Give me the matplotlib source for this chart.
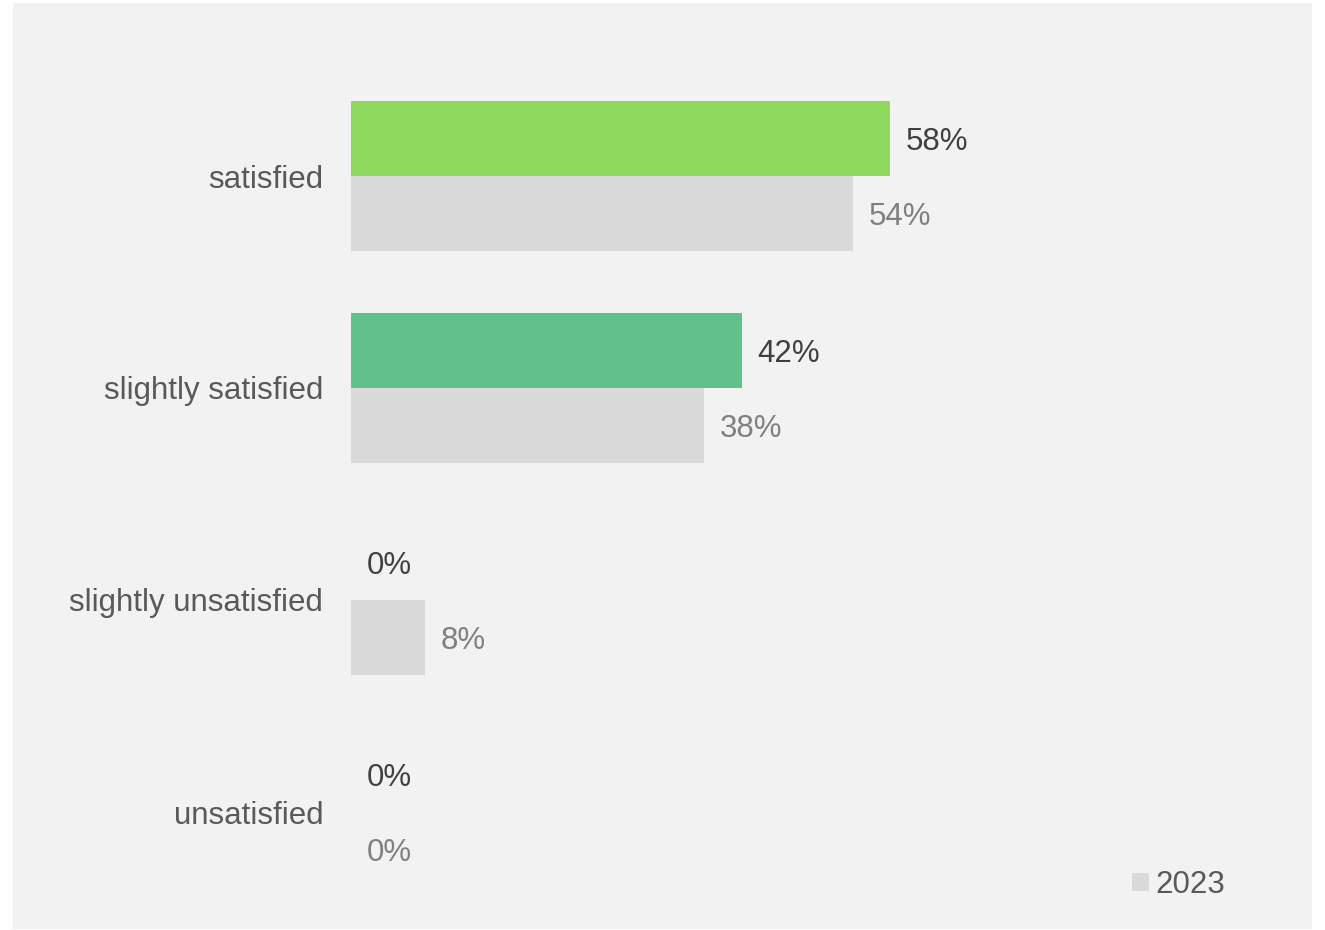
import matplotlib.pyplot as plt
from matplotlib.patches import Rectangle, Patch

# data
categories = ["satisfied", "slightly satisfied", "slightly unsatisfied", "unsatisfied"]
values_2024 = [58, 42, 0, 0]
values_2023 = [54, 38, 8, 0]
colors_2024 = ["#8FD95F", "#62C08A", "#62C08A", "#62C08A"]
gray = "#D9D9D9"

plt.rcParams['font.family'] = ['Liberation Sans', 'DejaVu Sans']
fs = 22.5

W, H = 1325, 930
fig = plt.figure(figsize=(W / 100, H / 100), dpi=100, facecolor="white")

# gray panel behind the chart
fig.patches.append(Rectangle((13 / W, 1 - 929 / H), (1312 - 13) / W, (929 - 3) / H,
                             transform=fig.transFigure, facecolor="#F2F2F2",
                             edgecolor="none", zorder=-10))

ax = fig.add_axes([351 / W, 1 - 918 / H, 930 / W, 848 / H])
ax.set_facecolor("none")
ax.set_zorder(5)

bh = 75 / 212
ys = list(range(len(categories)))
ax.barh([y - bh / 2 for y in ys], values_2024, height=bh, color=colors_2024)
ax.barh([y + bh / 2 for y in ys], values_2023, height=bh, color=gray)

off = 1.65
for y, v in zip(ys, values_2024):
    ax.text(v + off, y - bh / 2, f"{v}%", va="center_baseline", ha="left",
            fontsize=fs, color="#404040")
for y, v in zip(ys, values_2023):
    ax.text(v + off, y + bh / 2, f"{v}%", va="center_baseline", ha="left",
            fontsize=fs, color="#808080")

ax.set_xlim(0, 100)
ax.set_ylim(3.5, -0.5)
ax.set_yticks(ys)
ax.set_yticklabels(categories, fontsize=fs, color="#595959")
ax.tick_params(axis="y", length=0, pad=20)
ax.set_xticks([])
for s in ax.spines.values():
    s.set_visible(False)

fig.legend(handles=[Patch(facecolor=gray, edgecolor="none", label="2023")],
           loc="center left", bbox_to_anchor=(1132 / W, 1 - 885 / H),
           frameon=False, fontsize=fs, labelcolor="#595959",
           handlelength=0.55, handleheight=0.55, handletextpad=0.2,
           borderpad=0, borderaxespad=0)

fig.savefig("out.png", dpi=100, facecolor="white")
